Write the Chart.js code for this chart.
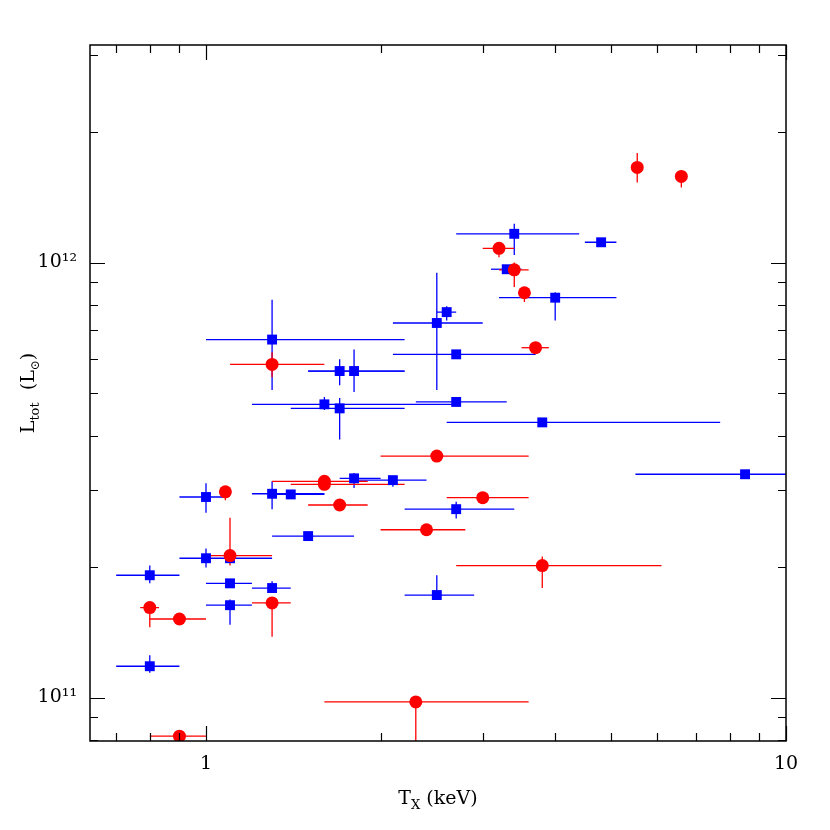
<!DOCTYPE html>
<html>
<head>
<meta charset="utf-8">
<script src="https://cdn.jsdelivr.net/npm/chart.js@4.4.1/dist/chart.umd.min.js"></script>
<style>
  body { margin: 0; background: #fff; }
  canvas { display: block; }
</style>
</head>
<body>
<canvas id="lxChart" width="830" height="830"></canvas>
<script>
// luminosities are given in units of 1e11 L_sun
const unit = 1e11;

const blueT   = [0.8, 0.8, 1.0, 1.0, 1.1, 1.1, 1.3, 1.4, 1.3, 1.5, 1.3, 1.7, 1.7, 1.8, 1.6, 1.8, 2.1, 2.5, 2.6, 2.7, 2.7, 2.7, 2.5, 3.4, 3.3, 4.0, 4.8, 3.8, 8.5, 1.1];
const blueTLo = [0.7, 0.7, 0.9, 0.9, 1.0, 1.0, 1.2, 1.3, 1.2, 1.3, 1.0, 1.5, 1.4, 1.5, 1.2, 1.7, 1.82, 2.1, 2.5, 2.1, 2.3, 2.2, 2.2, 2.7, 3.1, 3.2, 4.5, 2.6, 5.5, 1.1];
const blueTHi = [0.9, 0.9, 1.08, 1.3, 1.2, 1.2, 1.6, 1.6, 1.4, 1.8, 2.2, 2.2, 2.2, 2.2, 2.7, 2.0, 2.4, 3.0, 2.7, 3.7, 3.3, 3.4, 2.9, 4.4, 3.5, 5.1, 5.1, 7.7, 10.0, 1.1];
const blueL   = [1.91, 1.18, 2.89, 2.09, 1.83, 1.63, 2.94, 2.93, 1.785, 2.35, 6.65, 5.63, 4.62, 5.63, 4.72, 3.19, 3.16, 7.26, 7.69, 6.15, 4.78, 2.71, 1.72, 11.64, 9.65, 8.30, 11.13, 4.29, 3.26, 2.09];
const blueLLo = [1.83, 1.14, 2.66, 1.99, 1.83, 1.47, 2.71, 2.93, 1.74, 2.35, 5.09, 5.22, 3.92, 5.04, 4.58, 3.03, 3.05, 5.09, 7.36, 6.15, 4.70, 2.58, 1.70, 10.41, 9.65, 7.36, 11.13, 4.29, 3.26, 2.09];
const blueLHi = [2.01, 1.25, 3.11, 2.20, 1.83, 1.68, 3.14, 2.93, 1.85, 2.35, 8.21, 5.99, 4.88, 6.31, 4.91, 3.28, 3.23, 9.47, 7.93, 6.15, 4.88, 2.82, 1.91, 12.27, 9.65, 8.545, 11.13, 4.29, 3.26, 2.09];

const redT   = [0.8, 0.9, 0.9, 1.08, 1.1, 1.3, 1.3, 1.6, 1.6, 1.7, 2.3, 2.4, 2.5, 3.0, 3.8, 3.2, 3.4, 3.54, 3.7, 5.54, 6.6];
const redTLo = [0.77, 0.8, 0.8, 1.08, 1.0, 1.1, 1.2, 1.3, 1.4, 1.5, 1.6, 2.0, 2.0, 2.6, 2.7, 3.0, 3.2, 3.54, 3.5, 5.54, 6.6];
const redTHi = [0.83, 1.0, 1.0, 1.08, 1.3, 1.6, 1.4, 1.9, 2.2, 1.9, 3.6, 2.8, 3.6, 3.6, 6.1, 3.4, 3.6, 3.54, 3.9, 5.54, 6.6];
const redL   = [1.61, 1.515, 0.815, 2.97, 2.12, 5.83, 1.65, 3.14, 3.09, 2.77, 0.977, 2.43, 3.59, 2.88, 2.01, 10.78, 9.62, 8.52, 6.37, 16.54, 15.77];
const redLLo = [1.45, 1.515, 0.815, 2.84, 2.01, 5.45, 1.38, 3.14, 3.09, 2.77, 0.70, 2.43, 3.59, 2.88, 1.785, 10.28, 8.78, 8.11, 6.37, 15.28, 14.88];
const redLHi = [1.61, 1.515, 0.815, 2.97, 2.59, 6.22, 1.70, 3.14, 3.09, 2.77, 0.977, 2.48, 3.59, 2.88, 2.11, 10.78, 10.0, 8.52, 6.37, 17.85, 15.77];

const xTicks = [0.7, 0.8, 0.9, 1, 2, 3, 4, 5, 6, 7, 8, 9, 10];
const yTicks = [0.8, 0.9, 1, 2, 3, 4, 5, 6, 7, 8, 9, 10, 20, 30];
const xRange = [Math.pow(10, -0.2), 10];
const yRange = [Math.pow(10, 10.9), Math.pow(10, 12.5)];

function points(t, tlo, thi, l, llo, lhi) {
  return t.map((v, i) => ({
    x: v, y: l[i] * unit,
    xMin: tlo[i], xMax: thi[i],
    yMin: llo[i] * unit, yMax: lhi[i] * unit
  }));
}

function isDecade(v) {
  const e = Math.log10(v);
  return Math.abs(e - Math.round(e)) < 1e-6;
}

const sup = { '0': '⁰', '1': '¹', '2': '²', '3': '³', '4': '⁴', '5': '⁵', '6': '⁶', '7': '⁷', '8': '⁸', '9': '⁹' };
const FONT = '"DejaVu Serif", "Liberation Serif", serif';

// error bars, drawn under the markers
const errorBars = {
  id: 'errorBars',
  beforeDatasetsDraw(chart) {
    const ctx = chart.ctx, xs = chart.scales.x, ys = chart.scales.y, a = chart.chartArea;
    ctx.save();
    ctx.beginPath();
    ctx.rect(a.left, a.top, a.right - a.left, a.bottom - a.top);
    ctx.clip();
    ctx.lineWidth = 1.3;
    chart.data.datasets.slice().reverse().forEach(ds => {
      ctx.strokeStyle = ds.barColor;
      ds.data.forEach(p => {
        const px = xs.getPixelForValue(p.x), py = ys.getPixelForValue(p.y);
        ctx.beginPath();
        ctx.moveTo(xs.getPixelForValue(p.xMin), py);
        ctx.lineTo(xs.getPixelForValue(p.xMax), py);
        ctx.moveTo(px, ys.getPixelForValue(p.yMin));
        ctx.lineTo(px, ys.getPixelForValue(p.yMax));
        ctx.stroke();
      });
    });
    ctx.restore();
  }
};

// box with inward ticks on all four sides, plus axis titles
const frame = {
  id: 'frame',
  afterDraw(chart) {
    const ctx = chart.ctx, xs = chart.scales.x, ys = chart.scales.y, a = chart.chartArea;
    ctx.save();
    ctx.strokeStyle = '#000';
    ctx.lineWidth = 1.5;
    ctx.strokeRect(a.left, a.top, a.right - a.left, a.bottom - a.top);
    ctx.lineWidth = 1.2;
    ctx.beginPath();
    xs.ticks.forEach(t => {
      const px = Math.round(xs.getPixelForValue(t.value)) + 0.5;
      const len = isDecade(t.value) ? 15 : 8;
      ctx.moveTo(px, a.bottom); ctx.lineTo(px, a.bottom - len);
      ctx.moveTo(px, a.top); ctx.lineTo(px, a.top + len);
    });
    ys.ticks.forEach(t => {
      const py = Math.round(ys.getPixelForValue(t.value)) + 0.5;
      const len = isDecade(t.value) ? 15 : 8;
      ctx.moveTo(a.left, py); ctx.lineTo(a.left + len, py);
      ctx.moveTo(a.right, py); ctx.lineTo(a.right - len, py);
    });
    ctx.stroke();

    ctx.fillStyle = '#000';
    ctx.textBaseline = 'alphabetic';
    const parts = (list) => list.map(([s, size, dy]) => {
      ctx.font = size + 'px ' + FONT;
      return { s, size, dy, w: ctx.measureText(s).width };
    });
    const drawParts = (ps, x0, y0) => {
      let x = x0;
      ps.forEach(p => {
        ctx.font = p.size + 'px ' + FONT;
        ctx.fillText(p.s, x, y0 + p.dy);
        x += p.w;
      });
    };

    const xt = parts([['T', 19, 0], ['X', 13, 5], [' (keV)', 19, 0]]);
    const xw = xt.reduce((s, p) => s + p.w, 0);
    drawParts(xt, (a.left + a.right) / 2 - xw / 2, 804);

    const yt = parts([['L', 19, 0], ['tot', 13, 5], ['  (L', 19, 0], ['⊙', 12, 5], [')', 19, 0]]);
    const yw = yt.reduce((s, p) => s + p.w, 0);
    ctx.translate(34, (a.top + a.bottom) / 2);
    ctx.rotate(-Math.PI / 2);
    drawParts(yt, -yw / 2, 0);
    ctx.restore();
  }
};

new Chart(document.getElementById('lxChart'), {
  type: 'scatter',
  data: {
    datasets: [{
      label: 'red',
      data: points(redT, redTLo, redTHi, redL, redLLo, redLHi),
      pointStyle: 'circle',
      pointRadius: 6.5,
      backgroundColor: '#ff0000',
      borderWidth: 0,
      barColor: '#ff0000'
    }, {
      label: 'blue',
      data: points(blueT, blueTLo, blueTHi, blueL, blueLLo, blueLHi),
      pointStyle: 'rect',
      pointRadius: 7,
      backgroundColor: '#0000ff',
      borderWidth: 0,
      barColor: '#0000ff'
    }]
  },
  options: {
    responsive: false,
    animation: false,
    layout: { padding: { top: 45, right: 44, left: 0, bottom: 0 } },
    plugins: {
      legend: { display: false },
      tooltip: { enabled: false }
    },
    scales: {
      x: {
        type: 'logarithmic',
        min: xRange[0],
        max: xRange[1],
        bounds: 'data',
        afterBuildTicks: s => {
          s.ticks = xTicks.map(v => ({ value: v }));
          s.min = xRange[0];
          s.max = xRange[1];
        },
        afterFit: s => { s.height = 89; },
        grid: { display: false, drawTicks: false },
        border: { display: false },
        ticks: {
          autoSkip: false,
          maxRotation: 0,
          padding: 12,
          color: '#000',
          font: { family: FONT, size: 19 },
          callback: v => isDecade(v) ? String(v) : ''
        }
      },
      y: {
        type: 'logarithmic',
        min: yRange[0],
        max: yRange[1],
        bounds: 'data',
        afterBuildTicks: s => {
          s.ticks = yTicks.map(v => ({ value: v * unit }));
          s.min = yRange[0];
          s.max = yRange[1];
        },
        afterFit: s => { s.width = 90; },
        grid: { display: false, drawTicks: false },
        border: { display: false },
        ticks: {
          autoSkip: false,
          padding: 13,
          color: '#000',
          font: { family: FONT, size: 19 },
          callback: v => {
            if (!isDecade(v)) return '';
            const e = String(Math.round(Math.log10(v)));
            return '10' + e.split('').map(c => sup[c]).join('');
          }
        }
      }
    }
  },
  plugins: [errorBars, frame]
});
</script>
</body>
</html>
